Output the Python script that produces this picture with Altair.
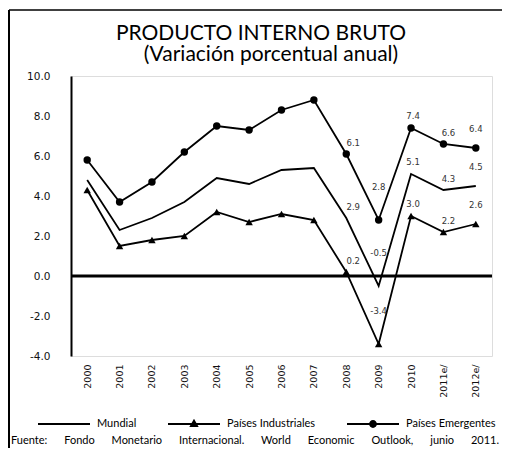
import altair as alt
import pandas as pd

years = ["2000", "2001", "2002", "2003", "2004", "2005", "2006", "2007",
         "2008", "2009", "2010", "2011e/", "2012e/"]
mundial = [4.8, 2.3, 2.9, 3.7, 4.9, 4.6, 5.3, 5.4, 2.9, -0.5, 5.1, 4.3, 4.5]
industriales = [4.3, 1.5, 1.8, 2.0, 3.2, 2.7, 3.1, 2.8, 0.2, -3.4, 3.0, 2.2, 2.6]
emergentes = [5.8, 3.7, 4.7, 6.2, 7.5, 7.3, 8.3, 8.8, 6.1, 2.8, 7.4, 6.6, 6.4]
series_names = ["Mundial", "Países Industriales", "Países Emergentes"]
labeled_years = ["2008", "2009", "2010", "2011e/", "2012e/"]
y_ticks = [-4, -2, 0, 2, 4, 6, 8, 10]

title_text = "PRODUCTO INTERNO BRUTO"
subtitle_text = "(Variación porcentual anual)"
source_words = ["Fuente:", "Fondo", "Monetario", "Internacional.", "World",
                "Economic", "Outlook,", "junio", "2011."]
gap = "\u00a0" * 5 + " "
source_text = gap.join(source_words)

rows = []
for name, vals in zip(series_names, [mundial, industriales, emergentes]):
    for y, v in zip(years, vals):
        rows.append({"year": y, "value": v, "series": name})
df = pd.DataFrame(rows)

# label offsets per year (styling)
label_offsets = {"2008": (7, -11), "2009": (0, -33), "2010": (2, -12),
                 "2011e/": (5, -11), "2012e/": (0, -19)}

W, H = 421, 280

x_scale = alt.Scale(type="point", padding=0.5)
x_axis = alt.Axis(title=None, labelAngle=-90, domain=False, ticks=False,
                  labelPadding=8, labelFont="DejaVu Sans", labelFontSize=9.5,
                  labelColor="#111", labelOverlap=False)
y_scale = alt.Scale(domain=[-4, 10], nice=False, zero=False)
y_axis = alt.Axis(title=None, values=y_ticks, format=".1f",
                  labelExpr="replace(datum.label, '\u2212', '-')",
                  grid=False, ticks=False, domain=True, domainColor="black",
                  domainWidth=2, labelPadding=21, labelFont="DejaVu Sans",
                  labelFontSize=10.5, labelColor="#111", labelOverlap=False,
                  labelFlush=False)


def xy():
    return dict(x=alt.X("year:N", sort=years, scale=x_scale, axis=x_axis),
                y=alt.Y("value:Q", scale=y_scale, axis=y_axis))


base = alt.Chart(df)

lines = base.mark_line(color="black", strokeWidth=1.8).encode(**xy(), detail="series:N")

tri = base.transform_filter(alt.datum.series == "Países Industriales").mark_point(
    shape="triangle-up", filled=True, color="black", size=55, opacity=1).encode(**xy())
circ = base.transform_filter(alt.datum.series == "Países Emergentes").mark_point(
    shape="circle", filled=True, color="black", size=55, opacity=1).encode(**xy())

zero_rule = alt.Chart(pd.DataFrame({"z": [0]})).mark_rule(color="black", strokeWidth=3).encode(
    y=alt.Y("z:Q", scale=y_scale, axis=y_axis))

# legend carrier (invisible marks; legend symbols drawn as filled line + marker)
bar_path = "M-1,-0.035H1V0.035H-1Z"
line_path = bar_path
tri_path = bar_path + "M0,-0.2L0.18,0.12L-0.18,0.12Z"
circ_path = bar_path + "M0.15,0A0.15,0.15 0 1,1 -0.15,0A0.15,0.15 0 1,1 0.15,0Z"
legend_layer = base.mark_point(filled=True, color="black", opacity=0).encode(
    **xy(),
    shape=alt.Shape("series:N", sort=series_names,
                    scale=alt.Scale(domain=series_names, range=[line_path, tri_path, circ_path]),
                    legend=alt.Legend(title=None, orient="none", direction="horizontal",
                                      legendX=-33, legendY=322, symbolSize=2704,
                                      symbolFillColor="black", symbolStrokeWidth=0,
                                      symbolOpacity=1,
                                      labelFont="Lato", labelFontSize=11, labelColor="black",
                                      labelOffset=7, columnPadding=31, padding=0)))

text_layers = []
for yr in labeled_years:
    dx, dy = label_offsets[yr]
    text_layers.append(
        base.transform_filter(alt.datum.year == yr)
        .transform_calculate(lbl="replace(format(datum.value, '.1f'), '\u2212', '-')")
        .mark_text(dx=dx, dy=dy, font="DejaVu Sans", fontSize=8.5, color="#333",
                   baseline="middle")
        .encode(**xy(), text="lbl:N"))

title_mark = alt.Chart(pd.DataFrame({"t": [title_text]})).mark_text(
    font="Lato", fontSize=21, color="black", align="center", baseline="alphabetic").encode(
    x=alt.value(190), y=alt.value(-36), text="t:N")
subtitle_mark = alt.Chart(pd.DataFrame({"t": [subtitle_text]})).mark_text(
    font="Lato", fontSize=21, color="black", align="center", baseline="alphabetic").encode(
    x=alt.value(200), y=alt.value(-15), text="t:N")
source_mark = alt.Chart(pd.DataFrame({"t": [source_text]})).mark_text(
    font="Lato", fontSize=11, color="black", align="left", baseline="middle").encode(
    x=alt.value(-60), y=alt.value(365), text="t:N")

border_v = alt.Chart(pd.DataFrame({"a": [0]})).mark_rule(color="black", strokeWidth=2).encode(
    x=alt.value(-62), y=alt.value(-66), y2=alt.value(420))
border_h = alt.Chart(pd.DataFrame({"a": [0]})).mark_rule(color="black", strokeWidth=1.5).encode(
    x=alt.value(-62), x2=alt.value(600), y=alt.value(-66))

chart = alt.layer(
    zero_rule, lines, tri, circ, legend_layer, *text_layers,
    title_mark, subtitle_mark, source_mark, border_v, border_h
).properties(
    width=W, height=H,
    autosize=alt.AutoSizeParams(type="none"),
    padding={"left": 63, "top": 68, "right": 10, "bottom": 92}
).configure_view(stroke=None).configure(background="white")

chart.save("out.html", embed_options={"renderer": "svg", "actions": False})
